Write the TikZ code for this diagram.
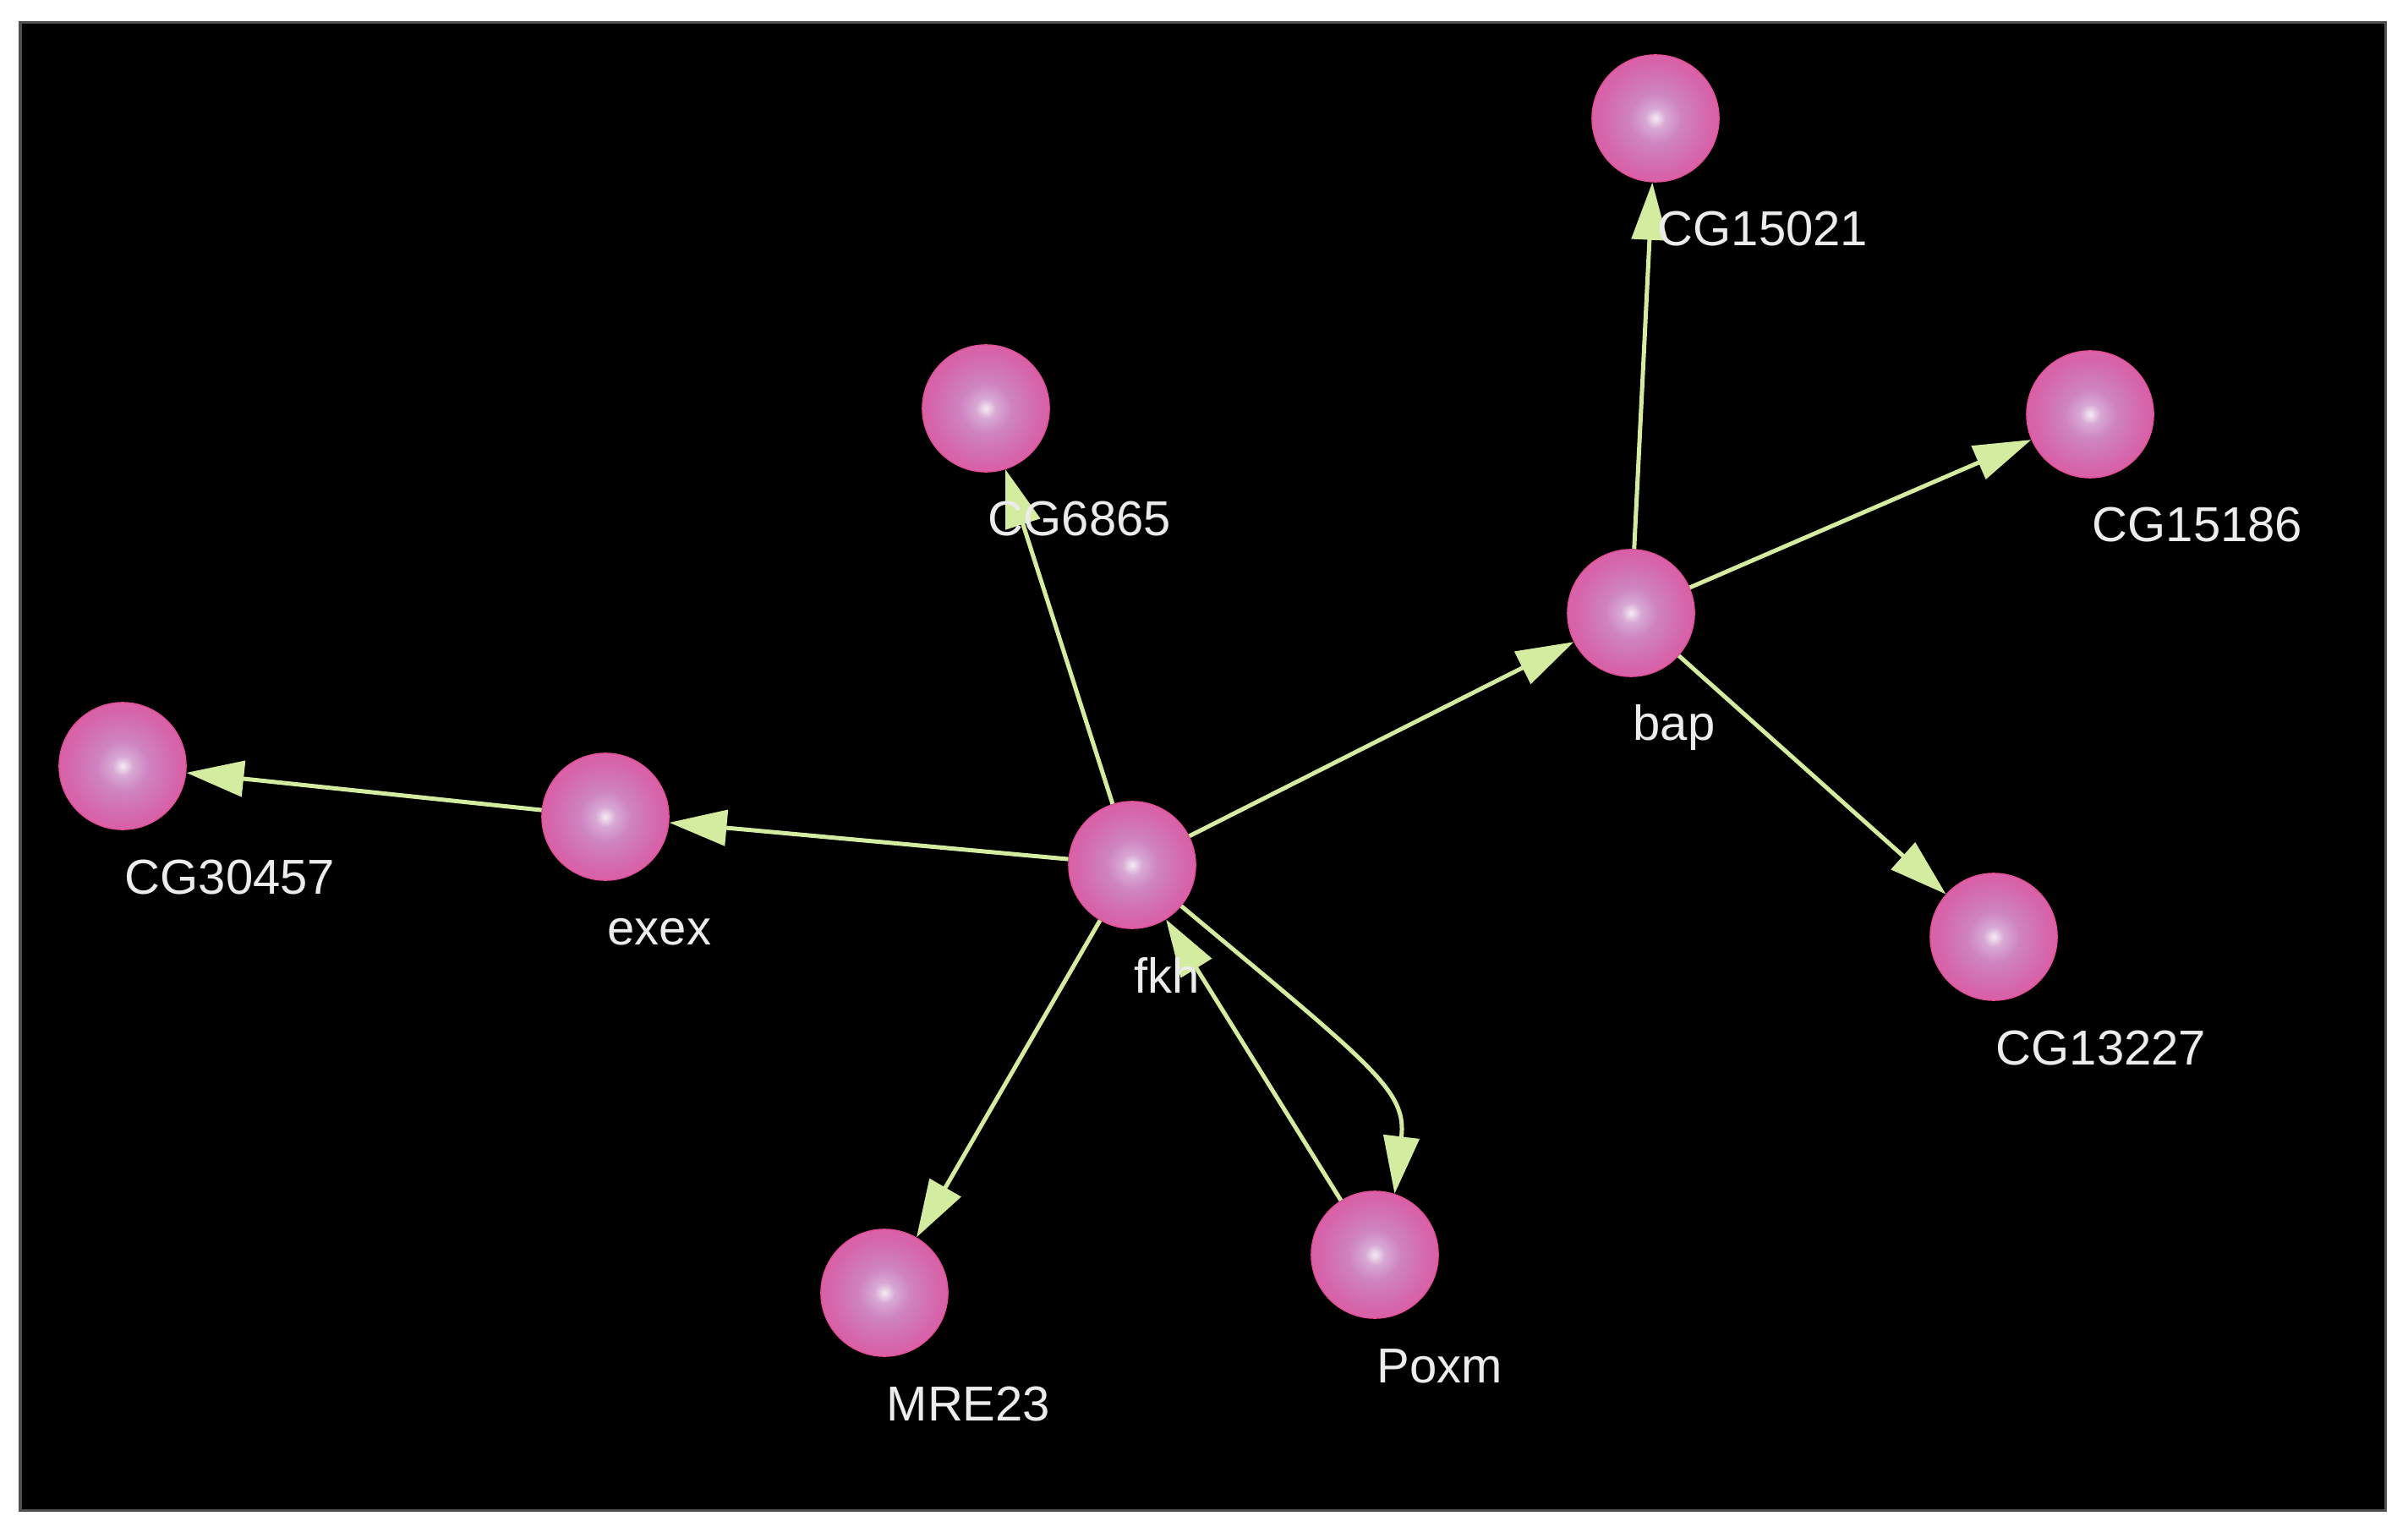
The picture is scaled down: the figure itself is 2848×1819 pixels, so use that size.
\documentclass[tikz,border=0pt]{standalone}
\usepackage{fontspec}
\setmainfont{Liberation Sans}
\usepackage{tikz}
\usetikzlibrary{arrows.meta, shapes.geometric}
\usepackage{xcolor}

\definecolor{edgegreen}{RGB}{212,236,160}
\definecolor{framegray}{RGB}{80,80,80}
\definecolor{genehi}{RGB}{244,236,244}
\definecolor{genelight}{RGB}{216,168,212}
\definecolor{genelav}{RGB}{206,132,192}
\definecolor{genemid}{RGB}{214,100,170}
\definecolor{geneedge}{RGB}{228,80,154}
\definecolor{labelgray}{RGB}{236,236,236}

\pgfdeclareradialshading{geneball}{\pgfpoint{0bp}{0bp}}{%
  color(0bp)=(genehi); color(4bp)=(genelight); color(10bp)=(genelav);
  color(22bp)=(genemid); color(38bp)=(geneedge); color(60bp)=(geneedge)}

\tikzset{
  gene/.style={circle, minimum size=1.5cm, inner sep=0pt, shading=geneball,
    draw=geneedge, line width=0.015cm},
  genelabel/.style={anchor=base west, inner sep=0pt, text=labelgray,
    font=\fontsize{16.5}{19}\selectfont},
  edge/.style={draw=edgegreen, line width=0.05cm,
    -{Triangle[length=0.68cm, width=0.42cm]}}
}

\begin{document}
\begin{tikzpicture}[x=0.01cm, y=-0.01cm]
    % Background and frame
    \useasboundingbox (0, 0) rectangle (2848, 1819);
    \fill[white] (0, 0) rectangle (2848, 1819);
    \draw[fill=black, draw=framegray, line width=0.03cm] (24, 27) rectangle (2821, 1786);

    % Draw genes
    \node[gene] (fkh) at (1339, 1023) {};
    \node[gene] (exex) at (716, 966) {};
    \node[gene] (CG30457) at (145, 906) {};
    \node[gene] (CG6865) at (1166, 483) {};
    \node[gene] (bap) at (1929, 725) {};
    \node[gene] (CG15021) at (1958, 140) {};
    \node[gene] (CG15186) at (2472, 490) {};
    \node[gene] (CG13227) at (2358, 1108) {};
    \node[gene] (MRE23) at (1046, 1529) {};
    \node[gene] (Poxm) at (1626, 1484) {};

    % Draw regulation edges
    \draw[edge] (fkh) -- (exex);
    \draw[edge] (exex) -- (CG30457);
    \draw[edge] (fkh) -- (CG6865);
    \draw[edge] (fkh) -- (bap);
    \draw[edge] (bap) -- (CG15021);
    \draw[edge] (bap) -- (CG15186);
    \draw[edge] (bap) -- (CG13227);
    \draw[edge] (fkh) -- (MRE23);
    \draw[edge] (Poxm) -- (fkh);
    \draw[edge] (fkh) .. controls (1625, 1262) and (1664, 1290) .. (Poxm.72);

    % Gene labels
    \node[genelabel] (fkh-lbl) at (1341, 1174) {fkh};
    \node[genelabel] (exex-lbl) at (718, 1117) {exex};
    \node[genelabel] (CG30457-lbl) at (147, 1057) {CG30457};
    \node[genelabel] (CG6865-lbl) at (1168, 634) {CG6865};
    \node[genelabel] (bap-lbl) at (1931, 876) {bap};
    \node[genelabel] (CG15021-lbl) at (1960, 291) {CG15021};
    \node[genelabel] (CG15186-lbl) at (2474, 641) {CG15186};
    \node[genelabel] (CG13227-lbl) at (2360, 1259) {CG13227};
    \node[genelabel] (MRE23-lbl) at (1048, 1680) {MRE23};
    \node[genelabel] (Poxm-lbl) at (1628, 1635) {Poxm};
\end{tikzpicture}
\end{document}
